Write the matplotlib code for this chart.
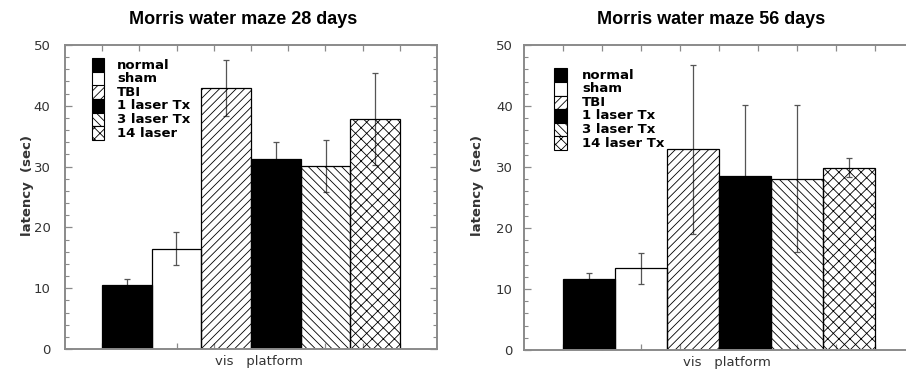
import numpy as np
import matplotlib
matplotlib.use('Agg')
import matplotlib.pyplot as plt
from matplotlib.patches import Rectangle

# data
groups_28 = ['normal', 'sham', 'TBI', '1 laser Tx', '3 laser Tx', '14 laser']
groups_56 = ['normal', 'sham', 'TBI', '1 laser Tx', '3 laser Tx', '14 laser Tx']
mean_28 = [10.6, 16.5, 42.9, 31.2, 30.1, 37.8]
err_28 = [0.9, 2.7, 4.6, 2.8, 4.2, 7.6]
mean_56 = [11.6, 13.4, 32.9, 28.5, 28.1, 29.9]
err_56 = [1.1, 2.5, 13.9, 11.7, 12.1, 1.6]
titles = ['Morris water maze 28 days', 'Morris water maze 56 days']

# styles per group (white bars left unfilled so error bars behind show through)
face = ['black', 'none', 'none', 'black', 'none', 'none']
swatch_face = ['black', 'white', 'white', 'black', 'white', 'white']
hatch = [None, None, '////', None, '\\\\\\\\', 'xxx']

plt.rcParams['hatch.linewidth'] = 0.6
plt.rcParams['font.family'] = ['DejaVu Sans']

fig = plt.figure(figsize=(9.06, 3.69), dpi=100)
W, H = 906, 369
axes_px = [(65, 349, 372, 304), (524, 350, 390, 305)]  # left, bottom, width, height
title_x = [243, 711]
ylab_x = [28, 477]
tick_pad = [10.5, 8]

spine_col = '#8a8a8a'
text_col = '#333333'

for k, (means, errs, labels, title) in enumerate(zip([mean_28, mean_56], [err_28, err_56],
                                                      [groups_28, groups_56], titles)):
    l, b, w, h = axes_px[k]
    ax = fig.add_axes([l / W, 1 - b / H, w / W, h / H])
    x = np.arange(len(means))
    ax.errorbar(x, means, yerr=errs, fmt='none', ecolor='#555555', elinewidth=0.9,
                capsize=2.5, capthick=0.9, zorder=1)
    for i in range(len(means)):
        ax.bar(x[i], means[i], width=1.0, color=face[i], edgecolor='black',
               hatch=hatch[i], linewidth=0.9, zorder=2)

    ax.set_xlim(-1.24, 6.24)
    ax.set_ylim(0, 50)
    ax.set_yticks(np.arange(0, 51, 10))
    ax.set_yticks(np.arange(0, 51, 2), minor=True)
    ax.set_xticks(np.linspace(-1.24, 6.24, 11)[1:-1])
    ax.set_xticklabels([])
    ax.tick_params(axis='y', which='major', direction='in', length=5, width=0.9,
                   color=spine_col, labelsize=9.5, labelcolor=text_col, pad=tick_pad[k],
                   left=True, right=True)
    ax.tick_params(axis='y', which='minor', direction='in', length=3, width=0.8,
                   color=spine_col, left=True, right=True)
    ax.tick_params(axis='x', which='both', direction='in', length=4, width=0.9,
                   color=spine_col, top=True, bottom=True)
    for s in ax.spines.values():
        s.set_color(spine_col)
        s.set_linewidth(1.4)

    fig.text(title_x[k] / W, 1 - 20 / H, title, ha='center', va='center',
             fontsize=13, fontweight='bold',
             family=['Liberation Sans Narrow', 'Liberation Sans', 'DejaVu Sans'])
    fig.text(ylab_x[k] / W, 1 - 186 / H, 'latency  (sec)', rotation=90,
             ha='center', va='center', fontsize=9.5, fontweight='bold', color=text_col)
    ax.text(0.52, -0.04, 'vis   platform', transform=ax.transAxes, ha='center',
            va='center', fontsize=9.5, color=text_col)

    # legend: stacked swatches
    lx = [91.7, 554][k]
    ly = [58.3, 68.3][k]
    tx = [117, 582][k]
    rh = 13.6
    sw = 12.5
    for i, lab in enumerate(labels):
        y0 = ly + i * rh
        r = Rectangle(((lx - l) / w, (b - (y0 + rh)) / h), sw / w, rh / h,
                      transform=ax.transAxes, facecolor=swatch_face[i], edgecolor='black',
                      hatch=hatch[i], linewidth=0.8, zorder=4)
        ax.add_patch(r)
        ax.text((tx - l) / w, (b - (y0 + rh / 2)) / h, lab, transform=ax.transAxes,
                ha='left', va='center', fontsize=9.5, fontweight='bold', zorder=4)

fig.savefig('out.png', dpi=100)
